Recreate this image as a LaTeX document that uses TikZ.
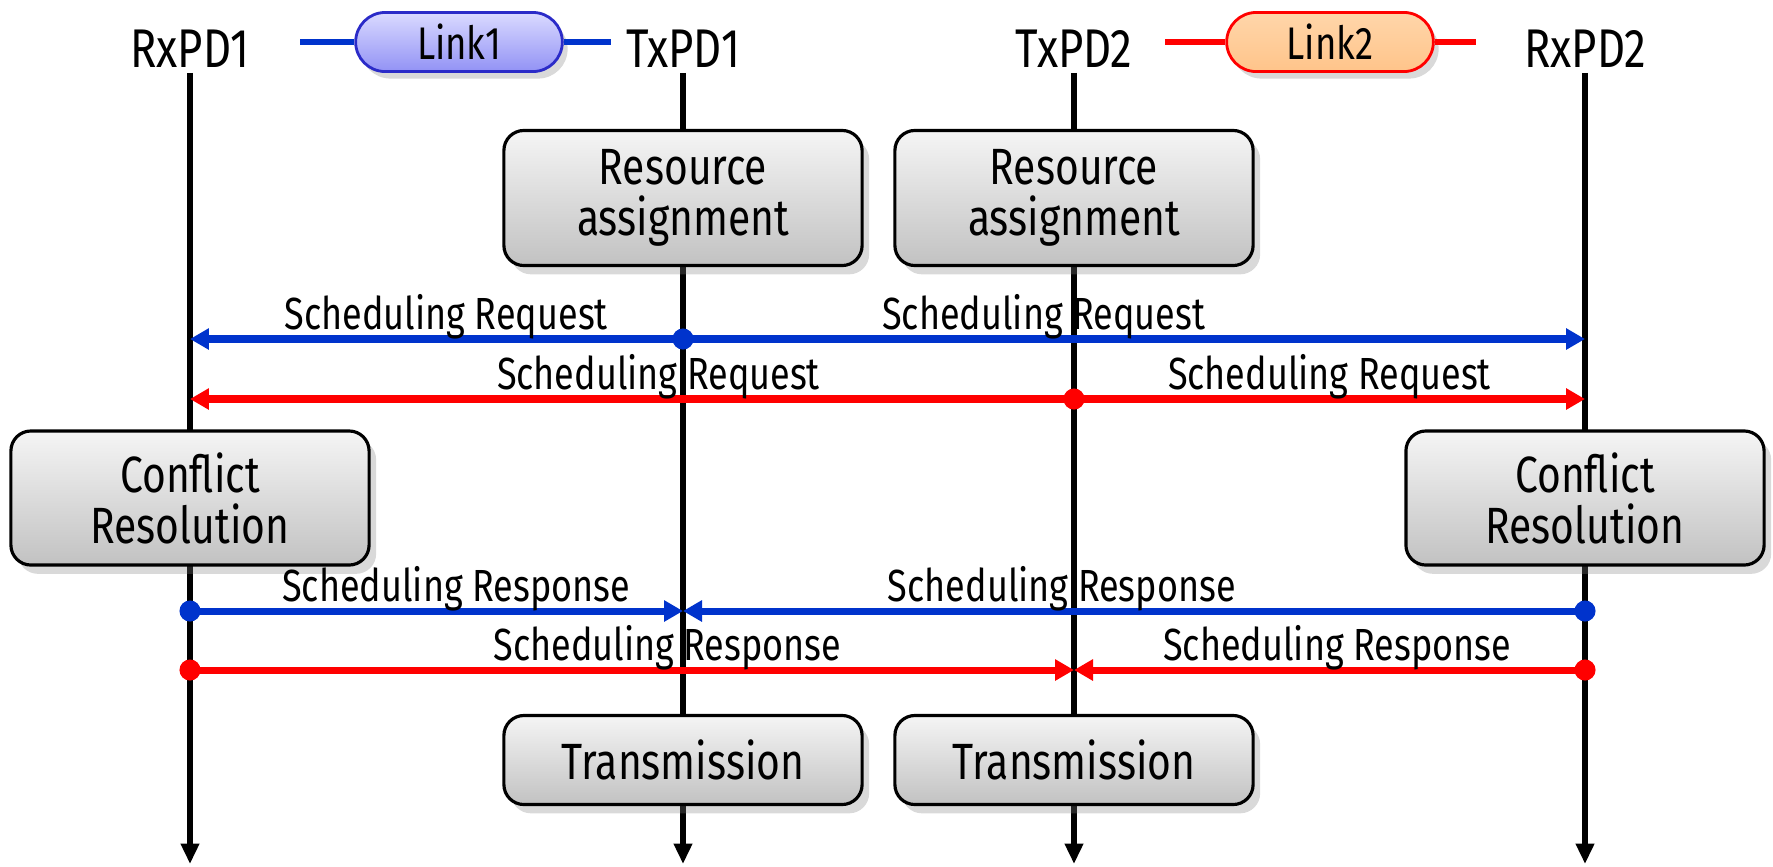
\documentclass[tikz,border=0pt]{standalone}
\usepackage{fontspec}
\setmainfont{Fira Sans}[FakeStretch=0.8]
\usetikzlibrary{positioning,arrows.meta,shapes.misc,shadows}
\definecolor{msgblue}{RGB}{0,51,204}
\definecolor{msgred}{RGB}{255,0,0}
\definecolor{pilltop}{RGB}{218,218,255}
\definecolor{pillbot}{RGB}{146,146,245}
\definecolor{pillrim}{RGB}{43,43,200}
\definecolor{orangetop}{RGB}{255,214,170}
\definecolor{orangebot}{RGB}{255,196,138}

\begin{document}
\begin{tikzpicture}[x=0.01cm, y=-0.01cm,
  pd/.style={inner sep=0, anchor=base, font=\fontsize{15.5}{17}\selectfont},
  life/.style={line width=1.6pt, -{Triangle[length=5.8pt,width=5pt]},
               shorten <=1.5pt},
  task/.style={draw, line width=0.9pt, rounded corners=2mm, align=center,
               minimum width=3.58cm, top color=gray!8, bottom color=gray!48,
               drop shadow={opacity=0.3, shadow xshift=2pt, shadow yshift=-2.5pt},
               font=\fontsize{14.5}{14.5}\selectfont},
  pill/.style={draw, rounded rectangle, line width=0.8pt,
               minimum width=2.3cm, minimum height=0.59cm,
               drop shadow={opacity=0.3, shadow xshift=1.5pt, shadow yshift=-2pt},
               font=\fontsize{13}{14}\selectfont},
  msg/.style={line width=2pt, -{Triangle[length=5.4pt,width=5.8pt]}},
  dot/.style={circle, inner sep=0, minimum size=6pt},
  lbl/.style={anchor=base, yshift=2.8pt, inner sep=0, text=black,
              font=\fontsize{12.8}{14}\selectfont},
  ]
  \useasboundingbox (0,0) rectangle (1773,866);

  \foreach \n/\x in {r1/190,t1/683,t2/1074,r2/1585} {
    \foreach \m/\y in {a/339,b/399,c/611,d/670}
      \coordinate (\n\m) at (\x,\y);
    \coordinate (\n-end) at (\x,864);
  }

  \node[pd] (r1) at (190,67) {RxPD1};
  \node[pd] (t1) at (683,67) {TxPD1};
  \node[pd] (t2) at (1074,67) {TxPD2};
  \node[pd] (r2) at (1585,67) {RxPD2};
  \foreach \n in {r1,t1,t2,r2}
    \draw[life] (\n.south) -- (\n-end);

  \coordinate (l1w) at (300,42);
  \coordinate (l1e) at (611,42);
  \coordinate (l2w) at (1165,42);
  \coordinate (l2e) at (1476,42);
  \node[pill, draw=pillrim, top color=pilltop, bottom color=pillbot] (link1) at (459,42) {Link1};
  \node[pill, draw=msgred, top color=orangetop, bottom color=orangebot] (link2) at (1330,42) {Link2};
  \draw[line width=1.7pt, msgblue] (l1w) -- (link1.west) (link1.east) -- (l1e);
  \draw[line width=1.7pt, msgred] (l2w) -- (link2.west) (link2.east) -- (l2e);

  \node[task, minimum height=1.35cm] (ra1) at (683,198) {Resource\\assignment};
  \node[task, minimum height=1.35cm] (ra2) at (1074,198) {Resource\\assignment};
  \node[task, minimum height=1.34cm] (cr1) at (190,498) {Conflict\\Resolution};
  \node[task, minimum height=1.34cm] (cr2) at (1585,498) {Conflict\\Resolution};
  \node[task, minimum height=0.89cm] (tx1) at (683,760) {Transmission};
  \node[task, minimum height=0.89cm] (tx2) at (1074,760) {Transmission};

  \draw[msg, draw=msgblue] (t1a) -- (r1a) node[lbl, pos=0.48] {Scheduling Request};
  \draw[msg, draw=msgblue] (t1a) -- (r2a) node[lbl, pos=0.40] {Scheduling Request};
  \node[dot, fill=msgblue] (q1) at (t1a) {};
  \draw[msg, draw=msgred] (t2b) -- (r1b) node[lbl, pos=0.47] {Scheduling Request};
  \draw[msg, draw=msgred] (t2b) -- (r2b) node[lbl, pos=0.50] {Scheduling Request};
  \node[dot, fill=msgred] (q2) at (t2b) {};

  \draw[msg, draw=msgblue] (r1c) -- (t1c) node[lbl, pos=0.54] {Scheduling Response};
  \draw[msg, draw=msgblue] (r2c) -- (t1c) node[lbl, pos=0.58] {Scheduling Response};
  \node[dot, fill=msgblue] (s1) at (r1c) {};
  \node[dot, fill=msgblue] (s2) at (r2c) {};
  \draw[msg, draw=msgred] (r1d) -- (t2d) node[lbl, pos=0.54] {Scheduling Response};
  \draw[msg, draw=msgred] (r2d) -- (t2d) node[lbl, pos=0.485] {Scheduling Response};
  \node[dot, fill=msgred] (s3) at (r1d) {};
  \node[dot, fill=msgred] (s4) at (r2d) {};
\end{tikzpicture}
\end{document}
